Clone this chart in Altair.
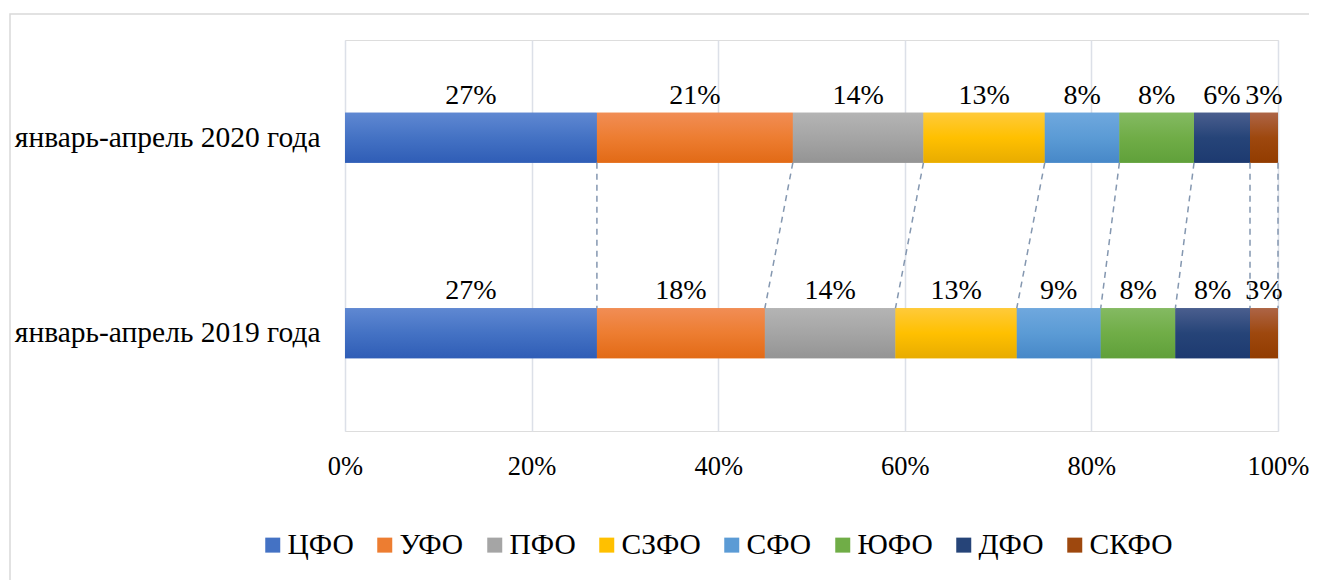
import altair as alt
import pandas as pd

# ---- data ----
periods = ["январь-апрель 2020 года", "январь-апрель 2019 года"]
regions = ["ЦФО", "УФО", "ПФО", "СЗФО", "СФО", "ЮФО", "ДФО", "СКФО"]
values_2020 = [27, 21, 14, 13, 8, 8, 6, 3]
values_2019 = [27, 18, 14, 13, 9, 8, 8, 3]
x_ticks = [0, 20, 40, 60, 80, 100]

# ---- styles ----
base_colors = ["#4472C4", "#ED7D31", "#A5A5A5", "#FFC000", "#5B9BD5", "#70AD47", "#264478", "#9E480E"]
top_colors = ["#5F88D2", "#F18D55", "#B4B4B4", "#FFCA3A", "#6FA8DE", "#84BA62", "#4A5E8E", "#AD6446"]
bot_colors = ["#2F5DB6", "#E26A16", "#949494", "#E8AC00", "#4788C8", "#60A03A", "#1D3A70", "#923C00"]
FONT = "Liberation Serif"
W, H = 933, 391
BAR = 50

rows = []
for period, vals in zip(periods, [values_2020, values_2019]):
    acc = 0
    for i, (r, v) in enumerate(zip(regions, vals)):
        rows.append({"period": period, "region": r, "order": i, "value": v,
                     "start": acc, "end": acc + v, "mid": acc + v / 2,
                     "label": f"{v}%"})
        acc += v
df = pd.DataFrame(rows)

conn_rows = []
a20 = a19 = 0
for r, v20, v19 in zip(regions, values_2020, values_2019):
    a20 += v20
    a19 += v19
    conn_rows.append({"region": r, "e20": a20, "e19": a19})
conn = pd.DataFrame(conn_rows)

x_scale = alt.Scale(domain=[0, 100], nice=False, zero=True)
y_scale = alt.Scale(domain=periods, paddingInner=0, paddingOuter=0)

x_enc = alt.X("start:Q", scale=x_scale,
              axis=alt.Axis(values=x_ticks, labelExpr="datum.value + '%'", title=None,
                            domain=False, ticks=False, grid=True, gridColor="#DCE0E8",
                            gridWidth=1.5, labelFont=FONT, labelFontSize=26.5,
                            labelColor="#000000", labelPadding=22, labelFlush=False))
y_enc = alt.Y("period:N", scale=y_scale, sort=periods,
              axis=alt.Axis(title=None, domain=False, ticks=False, grid=False,
                            labelFont=FONT, labelFontSize=29.5, labelColor="#000000",
                            labelPadding=25, labelLimit=400))

bars = alt.Chart(df).mark_bar(size=BAR).encode(
    x=x_enc, x2="end:Q", y=y_enc,
    color=alt.Color("region:N", scale=alt.Scale(domain=regions, range=base_colors),
                    sort=regions,
                    legend=alt.Legend(title=None, orient="none", direction="horizontal",
                                      columns=8, symbolType="square", symbolSize=225,
                                      symbolStrokeWidth=0, labelFont=FONT, labelFontSize=29.5,
                                      labelColor="#000000", labelOffset=0, columnPadding=16,
                                      legendX=-87, legendY=490, labelLimit=300)),
    order="order:Q",
)

grad_layers = []
for r, t, b, m in zip(regions, top_colors, bot_colors, base_colors):
    g = alt.Gradient(gradient="linear", x1=0, x2=0, y1=0, y2=1,
                     stops=[alt.GradientStop(offset=0, color=t),
                            alt.GradientStop(offset=0.5, color=m),
                            alt.GradientStop(offset=1, color=b)])
    grad_layers.append(
        alt.Chart(df).transform_filter(alt.datum.region == r)
        .mark_bar(size=BAR, color=g)
        .encode(x=alt.X("start:Q", scale=x_scale), x2="end:Q",
                y=alt.Y("period:N", scale=y_scale, sort=periods))
    )

labels = alt.Chart(df).mark_text(font=FONT, fontSize=28, color="#000000",
                                 baseline="middle", align="center", dy=-42).encode(
    x=alt.X("mid:Q", scale=x_scale),
    y=alt.Y("period:N", scale=y_scale, sort=periods),
    text="label:N",
)

step = H / 2
y_top_bottom = step / 2 + BAR / 2
y_bot_top = step * 1.5 - BAR / 2
connectors = alt.Chart(conn).mark_rule(color="#8497B0", strokeWidth=1.5,
                                       strokeDash=[6, 5]).encode(
    x=alt.X("e20:Q", scale=x_scale), x2="e19:Q",
    y=alt.value(y_top_bottom), y2=alt.value(y_bot_top),
)

border = alt.Chart(conn).transform_filter(alt.datum.region == regions[0]).mark_rect(
    fill=None, stroke="#D9D9D9", strokeWidth=1.5).encode(
    x=alt.value(-335), x2=alt.value(W + 200),
    y=alt.value(-26), y2=alt.value(H + 300),
)

chart = alt.layer(border, bars, *grad_layers, connectors, labels).properties(
    width=W, height=H,
    autosize=alt.AutoSizeParams(type="none"),
    padding={"left": 337, "top": 32, "right": 31, "bottom": 149},
).configure_view(stroke=None).configure(background="#FFFFFF", font=FONT)

chart.save("out.html", embed_options={"renderer": "svg", "actions": False})
